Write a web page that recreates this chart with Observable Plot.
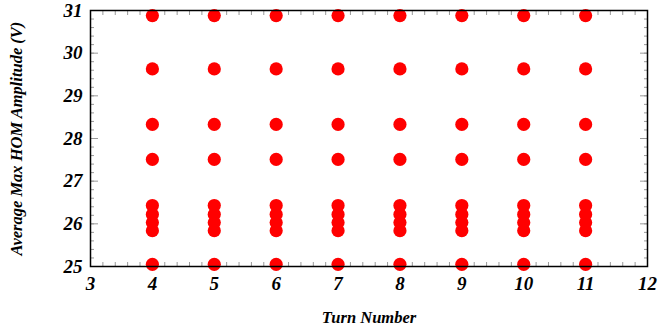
<!DOCTYPE html>
<html><head><meta charset="utf-8">
<script src="https://cdn.jsdelivr.net/npm/d3@7"></script>
<script src="https://cdn.jsdelivr.net/npm/@observablehq/plot@0.6"></script>
<style>
body{margin:0;background:#fff;}
svg text{font-family:"Liberation Serif","DejaVu Serif",serif;font-weight:bold;font-style:italic;}
g[aria-label="x-axis tick label"] text, g[aria-label="y-axis tick label"] text{font-size:19px !important;}
g[aria-label="x-axis label"] text, g[aria-label="y-axis label"] text{font-size:16.5px !important;}
</style>
</head><body>
<div id="chart"></div>
<script>
const turns = [4,5,6,7,8,9,10,11];
const amplitudes = [25.05, 25.84, 26.03, 26.22, 26.43, 27.51, 28.33, 29.63, 30.88];
const xTicks = [3,4,5,6,7,8,9,10,11,12];
const yTicks = [25,26,27,28,29,30,31];
const xMinor = d3.range(3, 12.001, 0.2);
const yMinor = d3.range(25, 31.001, 0.2);

const data = turns.flatMap(t => amplitudes.map(a => ({turn: t, amp: a})));

const tickColor = "#999";
const chart = Plot.plot({
  width: 659, height: 330,
  marginLeft: 90, marginRight: 12, marginTop: 10, marginBottom: 64,
  x: {domain: [3, 12]},
  y: {domain: [25, 31]},
  marks: [
    Plot.axisX({ticks: xMinor, tickSize: -4, stroke: tickColor, text: null, label: null}),
    Plot.axisX({anchor: "top", ticks: xMinor, tickSize: -4, stroke: tickColor, text: null, label: null}),
    Plot.axisY({ticks: yMinor, tickSize: -4, stroke: tickColor, text: null, label: null}),
    Plot.axisY({anchor: "right", ticks: yMinor, tickSize: -4, stroke: tickColor, text: null, label: null}),
    Plot.axisX({anchor: "top", ticks: xTicks, tickSize: -8, stroke: tickColor, text: null, label: null}),
    Plot.axisY({anchor: "right", ticks: yTicks, tickSize: -8, stroke: tickColor, text: null, label: null}),
    Plot.axisX({ticks: xTicks, tickFormat: "d", tickSize: -8, stroke: tickColor, tickPadding: 18, fill: "#000",
      label: "Turn Number", labelAnchor: "center", labelArrow: "none", labelOffset: 56}),
    Plot.axisY({ticks: yTicks, tickFormat: "d", tickSize: -8, stroke: tickColor, tickPadding: 16, fill: "#000",
      label: "Average Max HOM Amplitude (V)", labelAnchor: "center", labelArrow: "none", labelOffset: 80}),
    Plot.dot(data, {x: "turn", y: "amp", r: 6.6, fill: "#ff0000", stroke: "none"}),
    Plot.frame({stroke: "#000", strokeWidth: 1.5})
  ]
});
document.getElementById("chart").appendChild(chart);
</script>
</body></html>
